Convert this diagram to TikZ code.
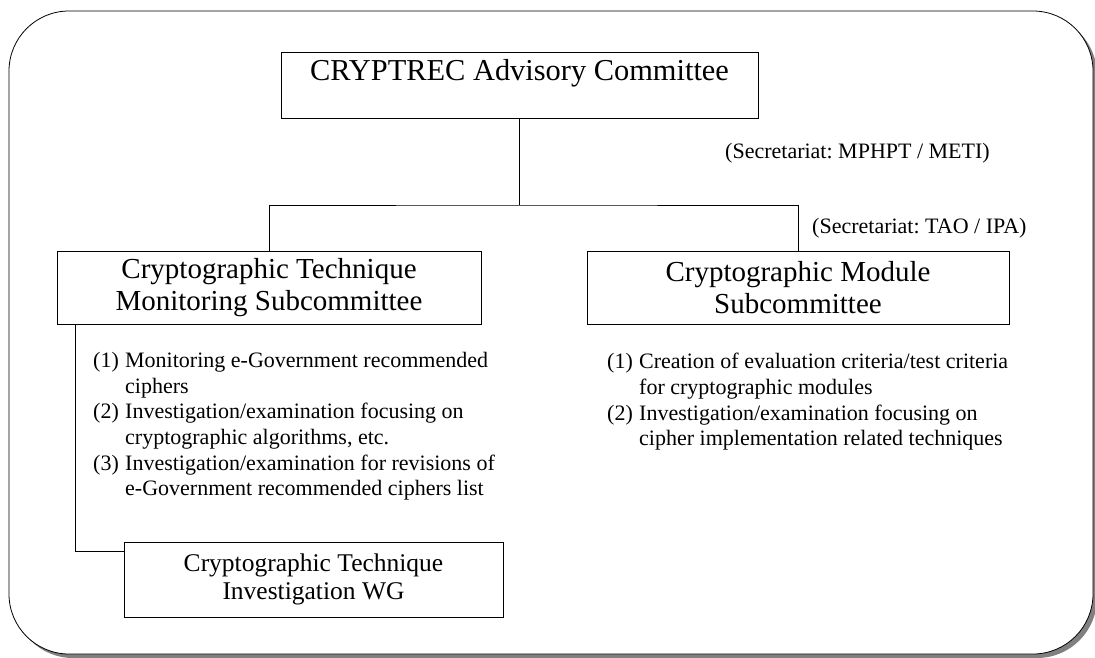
\documentclass[tikz,border=0pt]{standalone}
\usepackage{fontspec}
\setmainfont{Liberation Serif}
\definecolor{shadowgray}{HTML}{808080}
\newcommand\itemlbl[1]{\makebox[32pt][l]{#1}}
\frenchspacing
\begin{document}
\begin{tikzpicture}[x=1pt,y=-1pt,
  box/.style={draw, line width=0.9pt, inner sep=0pt, align=center},
  conn/.style={line width=0.8pt},
  listtext/.style={font=\fontsize{22}{25.7}\selectfont, align=left, inner sep=0pt},
  sectext/.style={font=\fontsize{22}{25.7}\selectfont, inner sep=0pt}]
\useasboundingbox (0,0) rectangle (1095,657);
% frame with shadow
\fill[shadowgray, rounded corners=60pt] (13,15) rectangle (1097,658);
\draw[fill=white, line width=0.8pt, rounded corners=60pt] (9,11) rectangle (1093,654);
% boxes
\node[box, minimum width=477pt, minimum height=66pt, font=\fontsize{30.4}{33}\selectfont,
      text height=20.5pt, text depth=29pt] (adv) at (519.5,85) {CRYPTREC Advisory Committee};
\node[box, minimum width=424pt, minimum height=73pt, font=\fontsize{29}{32}\selectfont]
      (mon) at (269,287.5) {Cryptographic Technique\\Monitoring Subcommittee};
\node[box, minimum width=422pt, minimum height=73pt, font=\fontsize{29}{32}\selectfont]
      (mod) at (798,287.5) {Cryptographic Module\\Subcommittee};
\node[box, minimum width=379pt, minimum height=75pt, font=\fontsize{25.5}{28}\selectfont]
      (wg) at (313.5,579.5) {Cryptographic Technique\\Investigation WG};
% connectors
\coordinate (j) at (519.5,205);
\draw[conn] (adv.south) -- (j);
\draw[conn] (mon.north) |- (j) -| (mod.north);
\draw[conn] ([xshift=19pt]mon.south west) |- ([yshift=28.5pt]wg.west);
% secretariat labels
\node[sectext, anchor=base west] (sec1) at (725,158) {(Secretariat: MPHPT / METI)};
\node[sectext, anchor=base west] (sec2) at (812,233) {(Secretariat: TAO / IPA)};
% lists
\node[listtext, anchor=north west] (monlist) at (93,352) {%
\itemlbl{(1)}Monitoring e-Government recommended\\
\itemlbl{}ciphers\\
\itemlbl{(2)}Investigation/examination focusing on\\
\itemlbl{}cryptographic algorithms, etc.\\
\itemlbl{(3)}Investigation/examination for revisions of\\
\itemlbl{}e-Government recommended ciphers list};
\node[listtext, anchor=north west] (modlist) at (607,353) {%
\itemlbl{(1)}Creation of evaluation criteria/test criteria\\
\itemlbl{}for cryptographic modules\\
\itemlbl{(2)}Investigation/examination focusing on\\
\itemlbl{}cipher implementation related techniques};
\end{tikzpicture}
\end{document}
